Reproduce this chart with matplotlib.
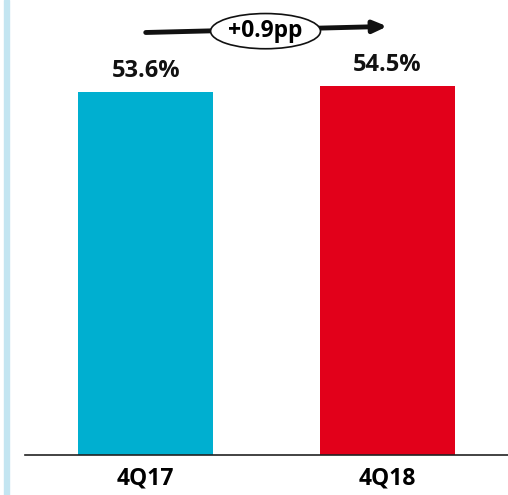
import matplotlib
matplotlib.use("Agg")
import matplotlib.pyplot as plt
from matplotlib.patches import Rectangle, Ellipse

categories = ["4Q17", "4Q18"]
values = [53.6, 54.5]
labels = ["53.6%", "54.5%"]
colors = ["#00AFD0", "#E2001A"]
change_label = "+0.9pp"

FONT = ["Open Sans", "DejaVu Sans"]

fig = plt.figure(figsize=(5.08, 4.95), dpi=100)
ax = fig.add_axes([25/508, 40/495, 483/508, 455/495])
x = list(range(len(categories)))
ax.bar(x, values, width=0.56, color=colors, zorder=2)
ax.set_xlim(-0.5, 1.5)
ax.set_ylim(0, 67.2)
for s in ["top", "right", "left"]:
    ax.spines[s].set_visible(False)
ax.spines["bottom"].set_linewidth(1.2)
ax.spines["bottom"].set_color("#222222")
ax.set_yticks([])
ax.set_xticks(x)
ax.set_xticklabels(categories, fontsize=16.5, fontweight="bold", family=FONT)
ax.tick_params(axis="x", length=0, pad=8)

for xi, v, lab in zip(x, values, labels):
    ax.text(xi, v + 1.3, lab, ha="center", va="bottom", fontsize=17,
            fontweight="bold", family=FONT, color="#111111")

# arrow
ax.annotate("", xy=(1.0, 63.3), xytext=(0.0, 62.4),
            arrowprops=dict(arrowstyle="-|>,head_length=0.8,head_width=0.35",
                            color="#111111", lw=3.5, shrinkA=0, shrinkB=0),
            annotation_clip=False, zorder=3)
ell = Ellipse((0.496, 62.6), 0.455, 5.2, facecolor="white", edgecolor="#111111",
              lw=1.2, zorder=4, clip_on=False)
ax.add_patch(ell)
ax.text(0.496, 62.6, change_label, ha="center", va="center", fontsize=16.5,
        fontweight="bold", family=FONT, zorder=5)

fig.patches.append(Rectangle((4/508, 0), 5/508, 1, transform=fig.transFigure,
                             color="#C3E5F1", zorder=0))
fig.savefig("out.png", dpi=100)
